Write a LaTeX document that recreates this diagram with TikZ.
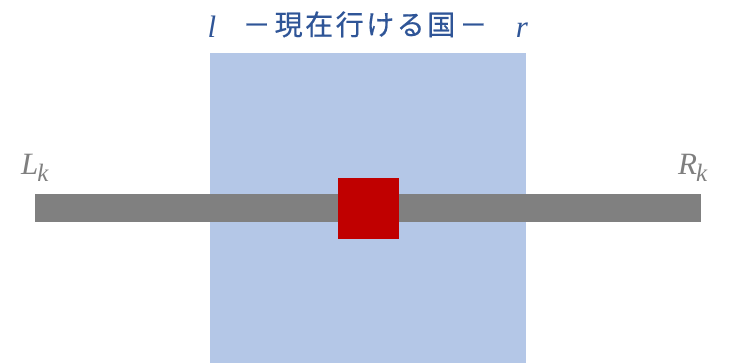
\documentclass[tikz,border=0pt]{standalone}
\usepackage{fontspec}
\newfontfamily\cjk[LetterSpace=9,FakeBold=0.6]{Noto Sans CJK JP}
\newfontfamily\mitfont{Liberation Serif}
\newcommand{\mvar}[1]{{\mitfont\itshape #1}}
\newcommand{\msub}[2]{{\mitfont\itshape #1\kern-1pt\raisebox{-7pt}{\fontsize{25}{27}\selectfont #2}}}
\definecolor{zoneblue}{HTML}{B4C7E7}
\definecolor{bargray}{HTML}{808080}
\definecolor{curred}{HTML}{C00000}
\definecolor{titleblue}{HTML}{2F5597}
\definecolor{labelgray}{HTML}{7F7F7F}
\begin{document}
\begin{tikzpicture}[x=1pt,y=-1pt,
  box/.style={inner sep=0pt, outer sep=0pt, anchor=north west, draw=none},
  title/.style={inner sep=0pt, anchor=base, text=titleblue, font=\fontsize{28}{30}\selectfont},
  side/.style={inner sep=0pt, anchor=base west, text=labelgray, font=\fontsize{31}{33}\selectfont}]
\useasboundingbox (0,0) rectangle (730,363);
\node[box, fill=zoneblue, minimum width=316pt, minimum height=310pt] (zone) at (210,53) {};
\node[box, fill=bargray, minimum width=666pt, minimum height=28pt] (bar) at (35,194) {};
\node[box, fill=curred, minimum width=61pt, minimum height=61pt] (cur) at (338,178) {};
\node[title, font=\fontsize{31}{33}\selectfont] (l) at (212,38) {\mvar{l}};
\node[title] (t) at (365,35) {\cjk －\hspace{4pt}現在行ける国\hspace{4pt}－};
\node[title, font=\fontsize{31}{33}\selectfont] (r) at (522,38) {\mvar{r}};
\node[side] (L) at (21,175) {\msub{L}{k}};
\node[side] (R) at (678,175) {\msub{R}{k}};
\end{tikzpicture}
\end{document}
